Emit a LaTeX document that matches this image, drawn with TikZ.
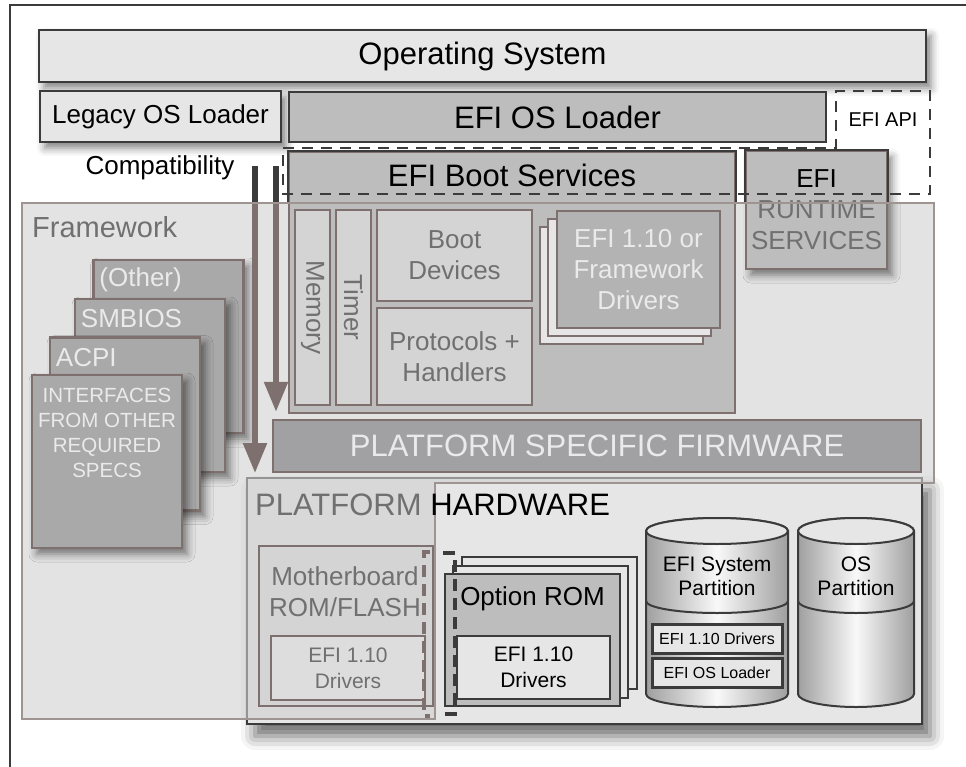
\documentclass[tikz,border=0pt]{standalone}
\usepackage{fontspec}
\setmainfont{Liberation Sans}
\usetikzlibrary{arrows.meta,positioning,shadows.blur}

\definecolor{edgedark}{HTML}{3B3B3B}
\definecolor{edgebrown}{HTML}{7D706E}
\definecolor{fillpale}{HTML}{E6E6E7}
\definecolor{fillsoft}{HTML}{D4D4D5}
\definecolor{fillmid}{HTML}{BDBDBE}
\definecolor{filldeep}{HTML}{A9A9AA}
\definecolor{fillfirm}{HTML}{A1A1A3}
\definecolor{fillfw}{HTML}{D0D0D1}
\definecolor{textgray}{HTML}{707070}
\definecolor{textpale}{HTML}{EAEAEA}

\begin{document}
\begin{tikzpicture}[x=1pt,y=-1pt,
	big/.style={font=\fontsize{31}{34}\selectfont},
	mid/.style={font=\fontsize{26}{31}\selectfont},
	small/.style={font=\fontsize{21}{26}\selectfont},
	tiny/.style={font=\fontsize{16}{19}\selectfont},
	darkbox/.style={draw=edgedark, line width=2pt, inner sep=0pt},
	brownbox/.style={draw=edgebrown, line width=2.5pt, inner sep=0pt},
	inbox/.style={brownbox, fill=fillsoft, mid, text=textgray, align=center},
	softshadow/.style={blur shadow={shadow xshift=5pt, shadow yshift=-6pt, shadow blur radius=8pt, shadow opacity=50}},
	stack/.style={brownbox, fill=filldeep, minimum width=150pt, minimum height=173pt, softshadow},
	flow/.style={edgebrown, line width=5.5pt, -{Triangle[width=23pt,length=30pt]}},
	apidash/.style={edgedark, line width=2pt, dash pattern=on 11pt off 8pt},
	]
	\useasboundingbox (0,0) rectangle (966,767);
	\draw[edgedark, line width=1.5pt] (10,767) |- (966,5);

	\node[darkbox, fill=fillpale, minimum width=887pt, minimum height=52pt, big, softshadow] (os) at (482.5,56) {Operating System};
	\node[darkbox, fill=fillpale, minimum width=241pt, minimum height=51pt, mid, softshadow] (legacy) at (160.5,116.5) {Legacy OS Loader};
	\node[darkbox, fill=fillmid, minimum width=537pt, minimum height=50pt, big] (efildr) at (557.5,117) {EFI OS Loader};
	\node[mid] (compat) at (160,168) {Compatibility};

	\node[darkbox, fill=fillpale, minimum width=675pt, minimum height=246pt, blur shadow={shadow xshift=8pt, shadow yshift=-12pt, shadow blur radius=14pt, shadow opacity=60}] (plat) at (584.5,601) {};

	\coordinate (fwA) at (22,203);
	\coordinate (fwB) at (934,203);
	\coordinate (fwC) at (934,483);
	\coordinate (fwD) at (435,483);
	\coordinate (fwE) at (435,719);
	\coordinate (fwF) at (22,719);
	\fill[fillfw, fill opacity=.6] (fwA) -- (fwB) -- (fwC) -- (fwD) -- (fwE) -- (fwF) -- cycle;
	\node[anchor=west, inner sep=0pt, font=\fontsize{29}{30}\selectfont, text=textgray] (fwtxt) at (32,227) {Framework};

	\node[brownbox, fill=fillmid, minimum width=446pt, minimum height=261pt] (bs) at (512,282.5) {};
	\draw[edgedark, line width=2pt] (bs.west |- fwA) |- (bs.north east) -- (bs.east |- fwA);
	\node[big] (bstxt) at (512,175) {EFI Boot Services};

	\node[brownbox, fill=fillmid, minimum width=141pt, minimum height=118pt, mid, text=textgray, align=center, softshadow] (rt) at (816.5,210) {\textcolor{black}{EFI}\\RUNTIME\\SERVICES};
	\draw[edgedark, line width=2pt] (rt.west |- fwA) |- (rt.north east) -- (rt.east |- fwA);

	\node[inbox, minimum width=195pt, minimum height=35pt, rotate=-90] (mem) at (312.5,307.5) {Memory};
	\node[inbox, minimum width=195pt, minimum height=35pt, rotate=-90] (timer) at (353.5,307.5) {Timer};
	\node[inbox, minimum width=155pt, minimum height=91pt] (bootdev) at (454.5,255.5) {Boot\\Devices};
	\node[inbox, minimum width=155pt, minimum height=97pt] (proto) at (454.5,356.5) {Protocols +\\Handlers};

	\foreach \nm/\cx/\cy in {drvC/621.5/285.5, drvB/629.5/277.5}
		\node[brownbox, fill=fillpale, minimum width=163pt, minimum height=117pt] (\nm) at (\cx,\cy) {};
	\node[brownbox, fill=filldeep!50!fillmid, minimum width=163pt, minimum height=117pt, mid, text=textpale, align=center] (drvA) at (638.5,269.5) {EFI 1.10 or\\Framework\\Drivers};

	\foreach \nm/\cx/\cy/\txt in {other/168.5/346.5/{(Other)}, smbios/150/385.5/SMBIOS, acpi/125/424/ACPI}{
		\node[stack] (\nm) at (\cx,\cy) {};
		\node[mid, text=textpale, anchor=west, inner sep=0pt] (\nm-txt) at ([xshift=7pt,yshift=-21pt]\nm.north west) {\txt};
	}
	\node[stack] (ifaces) at (107,461.5) {};
	\node[font=\fontsize{20.5}{25}\selectfont, text=textpale, align=center, inner sep=0pt, below=14pt of ifaces.north] (ifaces-txt) {INTERFACES\\FROM OTHER\\REQUIRED\\SPECS};

	\node[brownbox, fill=fillfirm, minimum width=648pt, minimum height=52pt, big, text=textpale] (psf) at (597,446) {PLATFORM SPECIFIC FIRMWARE};

	\coordinate (compatA) at (255,166);
	\coordinate (compatB) at (276,166);
	\draw[flow, shorten >=4pt] (compatA) -- (compatA |- plat.north);
	\draw[flow, shorten >=7pt] (compatB) -- (compatB |- psf.north);
	\draw[edgedark, line width=5.5pt] (compatA) -- (compatA |- fwA);
	\draw[edgedark, line width=5.5pt] (compatB) -- (compatB |- fwA);

	\node[brownbox, fill=fillsoft, minimum width=174pt, minimum height=160pt] (mobo) at (346,626) {};
	\node[mid, text=textgray, align=center, inner sep=0pt] (mobo-txt) at (345,592) {Motherboard\\ROM/FLASH};
	\node[brownbox, fill=fillsoft!50!fillpale, minimum width=154pt, minimum height=64pt, small, text=textgray, align=center] (mobodrv) at (348,668) {EFI 1.10\\Drivers};

	\foreach \nm/\cx/\cy in {romC/549.5/623, romB/540.5/631.5}
		\node[darkbox, fill=fillpale, minimum width=175pt, minimum height=132pt] (\nm) at (\cx,\cy) {};
	\node[darkbox, fill=fillmid, minimum width=175pt, minimum height=132pt] (romA) at (532.5,639.5) {};
	\node[mid, inner sep=0pt] (rom-txt) at (532.5,599) {Option ROM};
	\node[darkbox, fill=fillpale, minimum width=153pt, minimum height=63pt, small, align=center] (romdrv) at (533.5,667.5) {EFI 1.10\\Drivers};

	\draw[edgebrown, line width=4.5pt, dash pattern=on 12pt off 7pt] (430,552) -| (424,716) -- (430,716);
	\draw[edgedark, line width=4.5pt, dash pattern=on 12pt off 7pt] (443,553) -| (455,714) -- (443,714);

	\foreach \cx/\rx in {717/71, 856/58}{
		\path[draw=edgedark, line width=2pt, left color=gray!75, right color=gray!75, middle color=white!95!gray]
			(\cx-\rx,531) -- (\cx-\rx,694) arc[start angle=180, end angle=0, x radius=\rx, y radius=13]
			-- (\cx+\rx,531) arc[start angle=0, end angle=-180, x radius=\rx, y radius=13] -- cycle;
		\draw[edgedark, line width=2pt, fill=fillpale] (\cx,531) ellipse[x radius=\rx, y radius=13];
		\draw[edgedark, line width=2pt] (\cx-\rx,601) arc[start angle=180, end angle=0, x radius=\rx, y radius=12];
	}
	\node[small, align=center, inner sep=0pt, font=\fontsize{21}{24}\selectfont] (esp-txt) at (717,576) {EFI System\\Partition};
	\node[small, align=center, inner sep=0pt, font=\fontsize{21}{24}\selectfont] (osp-txt) at (856,576) {OS\\Partition};
	\node[darkbox, line width=3pt, fill=fillpale, minimum width=130pt, minimum height=29pt, tiny] (espdrv) at (717,638.5) {EFI 1.10 Drivers};
	\node[darkbox, line width=3pt, fill=fillpale, minimum width=130pt, minimum height=29pt, tiny] (espldr) at (717,672.5) {EFI OS Loader};

	\draw[edgebrown!75!white, line width=2pt] (fwA) -- (fwB) -- (fwC) -- (fwD) -- (fwE) -- (fwF) -- cycle;
	\node[anchor=west, inner sep=0pt, big] (plattxt) at (255,505) {\textcolor{textgray}{PLATFORM} HARDWARE};
	\draw[apidash] (283,148) -- (836,148) -- (836,91) -- (930,91) -- (930,194) -- (283,194) -- cycle;
	\node[font=\fontsize{20}{24}\selectfont] (api-txt) at (883,120) {EFI API};
\end{tikzpicture}
\end{document}
